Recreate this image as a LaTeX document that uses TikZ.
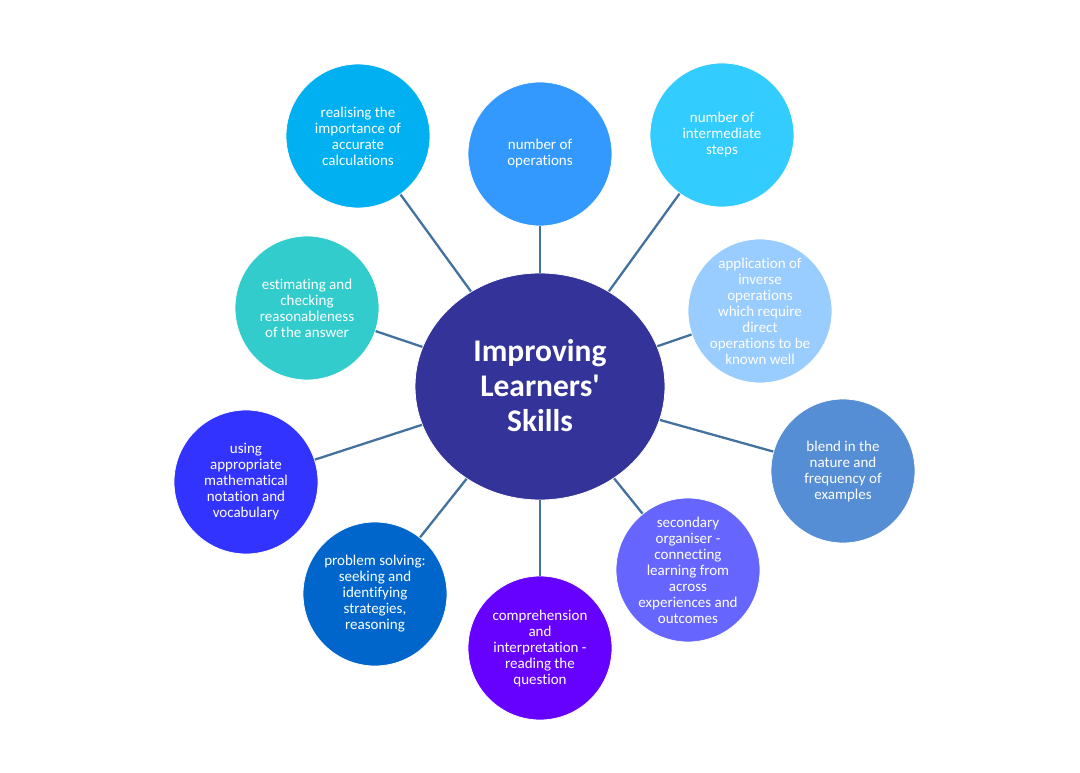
\documentclass[tikz,border=0pt]{standalone}
\usepackage{fontspec}
\setmainfont{Carlito}[Ligatures={TeXOff,NoCommon}]
\usetikzlibrary{shapes.geometric}
\definecolor{cCenter}{RGB}{51,51,153}
\definecolor{cLine}{RGB}{68,114,158}
\definecolor{cA}{RGB}{0,176,240}
\definecolor{cB}{RGB}{51,153,255}
\definecolor{cC}{RGB}{51,204,255}
\definecolor{cD}{RGB}{153,204,255}
\definecolor{cE}{RGB}{85,142,213}
\definecolor{cF}{RGB}{102,102,255}
\definecolor{cG}{RGB}{102,0,255}
\definecolor{cH}{RGB}{0,102,204}
\definecolor{cI}{RGB}{51,51,255}
\definecolor{cJ}{RGB}{51,204,204}
\tikzset{
  bubble/.style={circle, minimum size=144pt, inner sep=0pt, draw=white, line width=0.8pt, fill=#1},
  btext/.style={text=white, align=center, font=\fontsize{15}{16}\selectfont, inner sep=0pt},
  conn/.style={draw=cLine, line width=2.3pt},
}
\begin{document}
\begin{tikzpicture}[x=1pt,y=-1pt]
\fill[white] (0,0) rectangle (1080,773);
\useasboundingbox (0,0) rectangle (1080,773);

\node[ellipse, minimum width=250pt, minimum height=227pt, inner sep=0pt, fill=cCenter, draw=white, line width=0.8pt] (ctr) at (540,386.5) {};
\node[text=white, align=center, font=\bfseries\fontsize{31.5}{35}\selectfont, inner sep=0pt] (ctrt) at (540,386) {Improving\\Learners'\\Skills};

\node[bubble=cA] (c1) at (358,136) {};
\node[bubble=cB] (c2) at (540,154) {};
\node[bubble=cC] (c3) at (722,135) {};
\node[bubble=cD] (c4) at (760,311) {};
\node[bubble=cE] (c5) at (843,471) {};
\node[bubble=cF] (c6) at (688,570) {};
\node[bubble=cG] (c7) at (540,648) {};
\node[bubble=cH] (c8) at (375,594) {};
\node[bubble=cI] (c9) at (246,482) {};
\node[bubble=cJ] (c10) at (307,308) {};

\foreach \i in {1,...,10} {\draw[conn] (ctr) -- (c\i);}

\node[btext] (t1) at (c1) {realising the\\importance of\\accurate\\calculations};
\node[btext] (t2) at (c2) {number of\\operations};
\node[btext] (t3) at (c3) {number of\\intermediate\\steps};
\node[btext] (t4) at (c4) {application of\\inverse\\operations\\which require\\direct\\operations to be\\known well};
\node[btext] (t5) at (c5) {blend in the\\nature and\\frequency of\\examples};
\node[btext] (t6) at (c6) {secondary\\organiser -\\connecting\\learning from\\across\\experiences and\\outcomes};
\node[btext] (t7) at (c7) {comprehension\\and\\interpretation -\\reading the\\question};
\node[btext] (t8) at (c8) {problem solving:\\seeking and\\identifying\\strategies,\\reasoning};
\node[btext] (t9) at (c9) {using\\appropriate\\mathematical\\notation and\\vocabulary};
\node[btext] (t10) at (c10) {estimating and\\checking\\reasonableness\\of the answer};
\end{tikzpicture}
\end{document}
